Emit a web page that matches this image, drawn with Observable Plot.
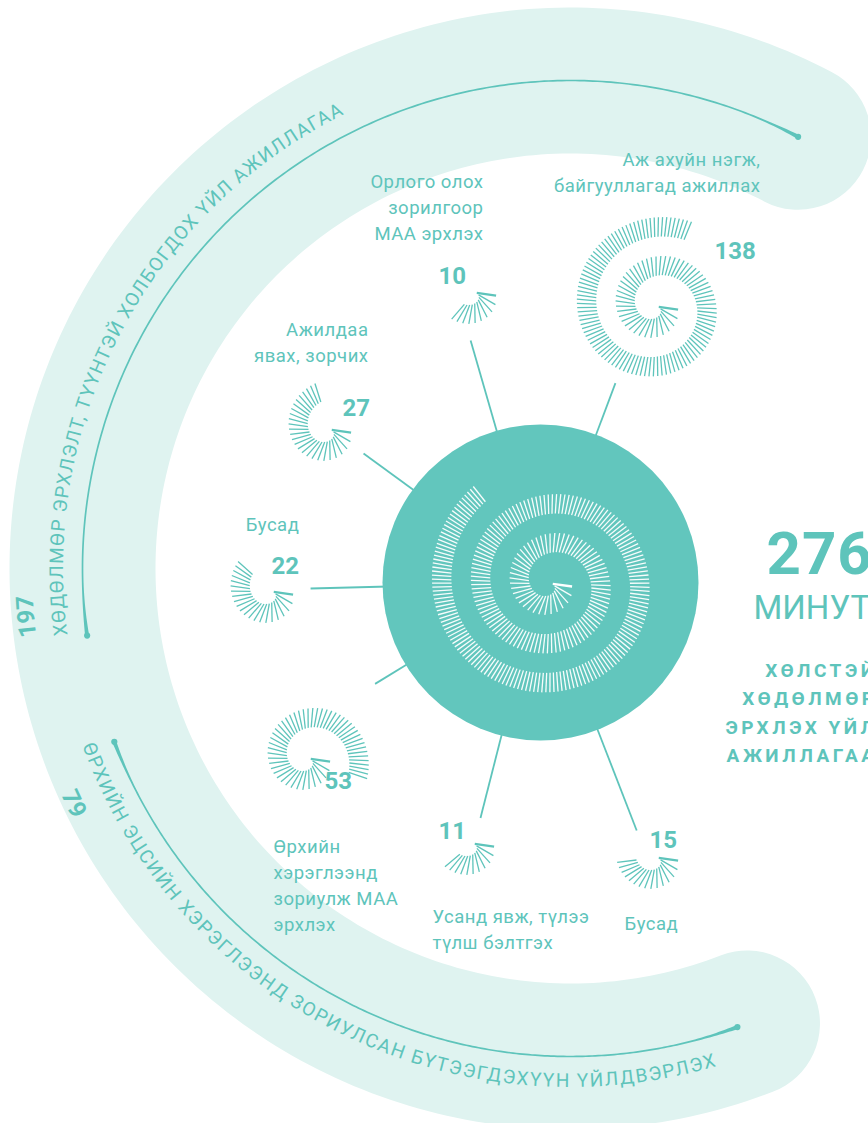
<!DOCTYPE html>
<html><head><meta charset="utf-8">
<script src="https://cdn.jsdelivr.net/npm/d3@7"></script>
<script src="https://cdn.jsdelivr.net/npm/@observablehq/plot@0.6"></script>
<style>
html,body{margin:0;padding:0;background:#fff;}
#chart svg{display:block;}
g[aria-description="total"] text{letter-spacing:1px}
g[aria-description="unit"] text{letter-spacing:0px}
g[aria-description="total-label"] text{letter-spacing:3.5px}
g[aria-description="labels"] text{letter-spacing:0.5px}
</style></head>
<body><div id="chart"></div>
<script>
// ---------- DATA ----------
const categories = [
  "Орлого олох\nзорилгоор\nМАА эрхлэх",
  "Аж ахуйн нэгж,\nбайгууллагад ажиллах",
  "Ажилдаа\nявах, зорчих",
  "Бусад",
  "Өрхийн\nхэрэглээнд\nзориулж МАА\nэрхлэх",
  "Усанд явж, түлээ\nтүлш бэлтгэх",
  "Бусад"
];
const minutes = [10, 138, 27, 22, 53, 11, 15];
const groups = [
  "ХӨДӨЛМӨР ЭРХЛЭЛТ, ТҮҮНТЭЙ ХОЛБОГДОХ ҮЙЛ АЖИЛЛАГАА",
  "ӨРХИЙН ЭЦСИЙН ХЭРЭГЛЭЭНД ЗОРИУЛСАН БҮТЭЭГДЭХҮҮН ҮЙЛДВЭРЛЭХ"
];
const groupMinutes = [197, 79];
const total = 276;
const totalUnit = "МИНУТ";
const totalLabel = "ХӨЛСТЭЙ\nХӨДӨЛМӨР\nЭРХЛЭХ ҮЙЛ\nАЖИЛЛАГАА";

// ---------- LAYOUT (positions / styles) ----------
const W = 868, H = 1123;
const teal = "#5ec4bb", hubFill = "#62c6bd", bandFill = "#dff3f0";
const hub = {x: 540, y: 582, r: 158};
const hubSpiral = {x: 550, y: 583};
const subCenters = [[474,292],[656,306],[329,429],[271,591],[308,758],[472,843],[656,857]];
const connAngles = [253.9, 290.6, 216.1, 178.5, 148.5, 104.3, 68.8];
const connReach = [252, 213, 219, 230, 194, 243, 266];
const valuePos = [[438,283],[714,258],[342,415],[271,573],[324,788],[438,838],[649,847]];
const labelPos = [[483,169,"end"],[760,147,"end"],[368,317,"end"],[272,512,"middle"],[273,834,"start"],[432,904,"start"],[624,911,"start"]];
const ring = {x: 570, y: 568, R: 488, w: 146};
const bandArc = [68.8, 297.8];
const lineArcs = [[172.1, 297.8], [159.2, 70]];

const rad = d => d * Math.PI / 180;
const arcPt = (cx, cy, R, deg) => [cx + R * Math.cos(rad(deg)), cy + R * Math.sin(rad(deg))];

// spiral of ticks: one tick per minute
function spiral(n, cx, cy, group) {
  const k = 39 / (2 * Math.PI), a = 2.3, c = 7, s = 3.6, L = 19.5, th0 = 0.14;
  const out = []; let t = 0;
  for (let i = 0; i < n; i++) {
    const r = a + k * t, ang = t + th0;
    out.push({group, i,
      x1: cx + r * Math.cos(ang), y1: cy + r * Math.sin(ang),
      x2: cx + (r + L) * Math.cos(ang), y2: cy + (r + L) * Math.sin(ang)});
    t += s / (r + c);
  }
  return out;
}
const mainTicks = spiral(total, hubSpiral.x, hubSpiral.y, "total");
const subTicks = minutes.flatMap((m, j) => spiral(m, subCenters[j][0], subCenters[j][1], j));

// band
const bandPts = d3.range(bandArc[0], bandArc[1] + 0.01, 1).map(d => {
  const [x, y] = arcPt(ring.x, ring.y, ring.R, d); return {x, y};
});
// comet-like thin lines
function comet(a0, a1, R, id) {
  const n = 240, left = [], right = [];
  const len = Math.abs(a1 - a0) * Math.PI / 180 * R;
  for (let i = 0; i <= n; i++) {
    const t = i / n, deg = a0 + (a1 - a0) * t, d = Math.min(t, 1 - t) * len;
    const w = 1.7 + 2.4 * Math.pow(Math.max(0, 1 - d / 60), 2);
    left.push(arcPt(ring.x, ring.y, R - w / 2, deg));
    right.push(arcPt(ring.x, ring.y, R + w / 2, deg));
  }
  return [...left, ...right.reverse()].map(([x, y]) => ({x, y, id}));
}
const cometPts = lineArcs.flatMap((a, i) => comet(a[0], a[1], ring.R, i));
const endDots = lineArcs.flatMap(a => a.map(d => { const [x, y] = arcPt(ring.x, ring.y, ring.R, d); return {x, y}; }));

const connectors = connAngles.map((a, i) => {
  const [x1, y1] = arcPt(hub.x, hub.y, hub.r - 6, a);
  const [x2, y2] = arcPt(hub.x, hub.y, connReach[i], a);
  return {x1, y1, x2, y2};
});

const rows = categories.map((c, i) => ({
  label: c, value: minutes[i],
  vx: valuePos[i][0], vy: valuePos[i][1],
  lx: labelPos[i][0], ly: labelPos[i][1], anchor: labelPos[i][2]
}));

// text along arcs
const measure = (() => {
  const ctx = document.createElement("canvas").getContext("2d");
  return (txt, size, weight) => { ctx.font = `${weight} ${size}px Roboto`; return ctx.measureText(txt).width; };
})();
function arcPath(cx, cy, R, a0, a1) {
  const [x0, y0] = arcPt(cx, cy, R, a0), [x1, y1] = arcPt(cx, cy, R, a1);
  const large = Math.abs(a1 - a0) > 180 ? 1 : 0, sweep = a1 > a0 ? 1 : 0;
  return `M${x0},${y0}A${R},${R} 0 ${large} ${sweep} ${x1},${y1}`;
}
const pathTexts = [
  {id: "tp-top", text: groups[0], R: 507, a0: 172.4, a1: 243.5, size: 19, weight: 400, fit: true},
  {id: "tp-bot", text: groups[1], R: 519, a0: 160, a1: 73.7, size: 19, weight: 400, fit: true},
  {id: "tp-197", text: String(groupMinutes[0]), R: 538, a0: 164.9, a1: 184.9, size: 24, weight: 700, mid: true},
  {id: "tp-79", text: String(groupMinutes[1]), R: 557, a0: 164.6, a1: 144.6, size: 24, weight: 700, mid: true}
];
function pathTextMark() {
  const g = d3.create("svg:g").attr("aria-label", "path-text");
  const defs = g.append("defs");
  for (const p of pathTexts) {
    defs.append("path").attr("id", p.id).attr("d", arcPath(ring.x, ring.y, p.R, p.a0, p.a1));
    const t = g.append("text").attr("fill", teal).attr("font-size", p.size)
      .attr("font-weight", p.weight).attr("font-family", "Roboto, sans-serif")
      .attr("text-anchor", p.mid ? "middle" : "start");
    if (p.fit) {
      const len = Math.abs(p.a1 - p.a0) * Math.PI / 180 * p.R;
      const w = measure(p.text, p.size, p.weight);
      t.attr("letter-spacing", Math.max(0, (len - w) / (p.text.length - 1)).toFixed(2));
    }
    const tp = t.append("textPath").attr("href", "#" + p.id).text(p.text);
    if (p.mid) tp.attr("startOffset", "50%");
  }
  return g.node();
}

const totalRows = [{t: String(total), x: 766, y: 573}];
const unitRows = [{t: totalUnit, x: 753, y: 618}];
const totalLabelRows = [{t: totalLabel, x: 877, y: 656}];

const plot = Plot.plot({
  width: W, height: H, margin: 0,
  x: {domain: [0, W], range: [0, W], axis: null},
  y: {domain: [0, H], range: [0, H], axis: null},
  style: {fontFamily: "Roboto, sans-serif", background: "#fff", overflow: "hidden"},
  marks: [
    Plot.line(bandPts, {x: "x", y: "y", stroke: bandFill, strokeWidth: ring.w, strokeLinecap: "round", strokeLinejoin: "round"}),
    Plot.line(cometPts, {x: "x", y: "y", z: "id", fill: teal, stroke: "none", curve: "linear-closed"}),
    Plot.dot(endDots, {x: "x", y: "y", r: 3.1, fill: teal}),
    pathTextMark,
    Plot.link(connectors, {x1: "x1", y1: "y1", x2: "x2", y2: "y2", stroke: teal, strokeWidth: 1.8}),
    Plot.dot([hub], {x: "x", y: "y", r: hub.r, fill: hubFill}),
    Plot.link(mainTicks.filter(d => d.i > 0), {x1: "x1", y1: "y1", x2: "x2", y2: "y2", stroke: "#ffffff", strokeWidth: 1.3, strokeOpacity: 0.95}),
    Plot.link(mainTicks.filter(d => d.i === 0), {x1: "x1", y1: "y1", x2: "x2", y2: "y2", stroke: "#ffffff", strokeWidth: 2.4}),
    Plot.link(subTicks.filter(d => d.i > 0), {x1: "x1", y1: "y1", x2: "x2", y2: "y2", stroke: teal, strokeWidth: 1.3}),
    Plot.link(subTicks.filter(d => d.i === 0), {x1: "x1", y1: "y1", x2: "x2", y2: "y2", stroke: teal, strokeWidth: 2.2}),
    Plot.text(rows, {x: "vx", y: "vy", text: d => String(d.value), fill: teal, fontSize: 24, fontWeight: 700, textAnchor: "start", lineAnchor: "bottom"}),
    ...["end", "start", "middle"].map(an => Plot.text(rows.filter(d => d.anchor === an), {
      x: "lx", y: "ly", text: "label", fill: teal, fontSize: 18.5, textAnchor: an, lineAnchor: "top", lineHeight: 1.4, ariaDescription: "labels"})),
    Plot.text(totalRows, {x: "x", y: "y", text: "t", fill: teal, fontSize: 60, fontWeight: 700, textAnchor: "start", lineAnchor: "bottom", ariaDescription: "total"}),
    Plot.text(unitRows, {x: "x", y: "y", text: "t", fill: teal, fontSize: 33, fontWeight: 400, textAnchor: "start", lineAnchor: "bottom", ariaDescription: "unit"}),
    Plot.text(totalLabelRows, {x: "x", y: "y", text: "t", fill: teal, fontSize: 19, fontWeight: 700, textAnchor: "end", lineAnchor: "top", lineHeight: 1.5, ariaDescription: "total-label"})
  ]
});
document.getElementById("chart").append(plot);
</script>
</body></html>
